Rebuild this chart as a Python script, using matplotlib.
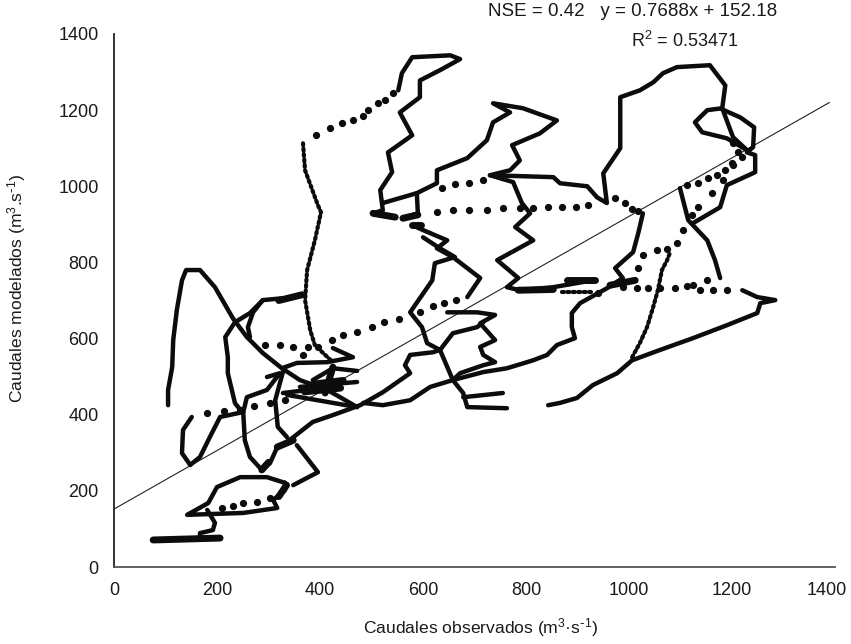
import matplotlib
matplotlib.use('Agg')
import matplotlib.pyplot as plt
from matplotlib.transforms import ScaledTranslation

plt.rcParams['font.family'] = ['Liberation Sans', 'DejaVu Sans']
plt.rcParams['mathtext.default'] = 'regular'

ticks = [0, 200, 400, 600, 800, 1000, 1200, 1400]
tick_labels = ['0', '200', '400', '600', '800', '1000', '1200', '1400']

trend_x = [0, 1389]
trend_y = [152.18, 1220]

# thick parts of the trajectory, where the daily points run together
peak_left = [(105,425),(105,465),(113,525),(115,596),(122,675),(132,753),(140,780),(167,780),(196,735),(231,653),(258,604),(289,562),(326,522),(361,491),(414,465),(439,446),(472,420)]
s_left = [(328,706),(289,701),(264,667),(235,643),(216,604),(221,551),(221,509),(235,430),(251,404),(254,333),(264,289),(287,255),(303,273),(317,315),(336,328),(386,381),(425,399),(478,425),(522,459),(575,509),(565,530),(575,557),(619,564),(633,570),(658,614),(705,630),(717,643)]
hook = [(289,701),(270,669),(260,630),(264,604)]
mid_arc = [(484,431),(522,425),(575,438),(614,473),(658,491),(717,512),(763,522),(814,543),(841,557),(860,583),(895,601),(889,630),(889,667),(905,693),(957,732),(988,759),(973,785),(1008,827),(1018,877),(1027,929)]
top_right = [(730,1029),(853,1024),(866,1008),(919,1000),(938,971),(957,956),(950,1034),(983,1100),(983,1234),(1021,1252),(1047,1273),(1066,1297),(1093,1313),(1157,1318),(1187,1265),(1181,1205),(1202,1129),(1229,1095)]
right_loop = [(1181,1205),(1152,1200),(1128,1168),(1142,1142),(1190,1126),(1229,1095)]
right_loop2 = [(1181,1202),(1216,1181),(1243,1155),(1241,1103),(1229,1089),(1245,1082),(1245,1037),(1190,1003),(1177,945),(1124,903)]
right_down = [(1099,995),(1115,911),(1152,858),(1167,806),(1177,759)]
right_tip = [(1220,727),(1249,709),(1284,701),(1255,693),(1249,667),(1190,635),(1124,601),(1060,570),(1006,543),(977,509),(930,478),(899,444),(866,431),(843,425)]
center_top = [(552,1252),(559,1297),(579,1339),(653,1344),(672,1334),(633,1305),(594,1278),(594,1234),(555,1194),(579,1134),(532,1089),(540,1037),(517,990),(522,937),(503,929),(546,919)]
center_mid = [(522,956),(588,982),(627,1008),(627,1042),(686,1074),(724,1121),(736,1168),(769,1194),(736,1218),(794,1205),(860,1173),(827,1139),(773,1108),(788,1068),(769,1042),(730,1029),(775,1011),(792,956),(808,929),(779,893),(814,858),(744,806),(785,759),(763,735),(788,727),(853,735),(930,753)]
small_square = [(588,982),(590,929),(561,916)]
center_low = [(579,898),(600,885),(647,858),(627,837),(658,814),(711,759),(686,709)]
center_low2 = [(600,866),(633,837),(662,814),(623,798),(618,753),(575,669),(598,630),(608,588),(633,570),(658,491)]
side_loop = [(647,669),(705,669),(740,662),(711,640),(740,596),(711,578),(717,557),(740,538),(717,530),(672,509),(658,491),(678,457),(686,420),(763,417)]
side_stub = [(678,446),(755,457)]
tail_left = [(251,407),(206,394),(186,341),(167,289),(148,268),(132,299),(134,360),(151,394)]
branch_a = [(297,499),(322,509),(297,465),(258,446),(251,407)]
branch_b = [(328,512),(313,438),(318,368),(336,341)]
cluster_a = [(326,522),(355,536),(414,538),(464,551),(425,575)]
cluster_b = [(361,473),(472,486)]
cluster_c = [(328,457),(425,473)]
cluster_d = [(386,491),(425,522),(472,515)]
cluster_f = [(336,452),(472,420)]
bottom_v = [(355,320),(396,249),(348,215)]
bottom_loop = [(332,221),(297,236),(245,236),(200,210),(183,168),(142,137),(251,142),(317,155),(309,176),(332,202),(332,221)]
bottom_stem = [(181,150),(196,116),(192,97),(167,89),(167,76)]
solid_paths = [peak_left, s_left, hook, mid_arc, top_right, right_loop, right_loop2, right_down, right_tip,
               center_top, center_mid, small_square, center_low, center_low2, side_loop, side_stub,
               tail_left, branch_a, branch_b, cluster_a, cluster_b, cluster_c, cluster_d, cluster_f,
               bottom_v, bottom_loop, bottom_stem]

# parts that look heavier than the rest
base_line = [(76,71),(206,76)]
blob_center = [(410,457),(425,525)]
blob_center2 = [(386,480),(445,490)]
blob_center3 = [(370,460),(440,470)]
blob_low = [(317,315),(348,333)]
blob_pit = [(287,255),(300,275)]
blob_loop = [(320,185),(335,215)]
blob_flat = [(785,727),(853,729)]
blob_flat2 = [(880,753),(934,753)]
blob_mid = [(963,740),(1012,753)]
blob_top = [(579,898),(596,898)]
blob_left = [(503,929),(546,919)]
blob_square = [(561,916),(590,925)]
blob_tip = [(320,700),(365,715)]
heavy_paths = [base_line, blob_center, blob_center2, blob_center3, blob_low, blob_pit, blob_loop, blob_flat,
               blob_flat2, blob_mid, blob_top, blob_left, blob_square, blob_tip]

# tightly packed points
dense_vertical = [(367,1113),(371,1042),(396,950),(402,932),(390,858),(375,780),(371,701),(381,622),(390,583),(410,557),(425,538)]
dense_flat = [(870,722),(927,722)]
dense_descend = [(1006,551),(1021,588),(1035,630),(1047,683),(1056,727),(1064,780),(1074,806),(1080,827)]
dense_paths = [dense_vertical, dense_flat, dense_descend]

# separate points on the fast rises
dots_lower = [(210,155),(231,160),(251,168),(278,171),(303,181)]
dots_left = [(181,404),(214,410),(245,412),(272,423),(303,431),(332,438)]
dots_upper = [(293,583),(322,583),(348,578),(367,557),(377,578),(396,578),(423,596),(445,609),(472,617),(501,630),(524,643),(553,651),(594,669),(619,685),(641,693),(664,701)]
dots_row1 = [(637,995),(662,1005),(689,1008),(717,1016)]
dots_row2 = [(627,932),(658,937),(689,937),(724,937),(755,942),(788,942),(814,942),(843,945),(870,945),(897,945),(920,950)]
dots_slope = [(973,969),(992,956),(1006,940),(1018,935)]
dots_top = [(392,1134),(419,1152),(443,1166),(464,1173),(484,1184),(493,1200),(513,1218),(526,1226),(542,1244)]
dots_tip = [(940,719),(988,735),(1016,732),(1037,732),(1060,732),(1089,732),(1113,738),(1124,740),(1152,753),(1138,727),(1163,727),(1190,727)]
dots_chain = [(1018,785),(1027,819),(1055,832),(1074,835),(1093,850),(1105,885),(1122,924),(1134,945),(1161,982),(1183,1016),(1200,1060),(1212,1089),(1202,1113)]
dots_right = [(1113,1003),(1134,1008),(1154,1021),(1171,1029),(1187,1042),(1202,1055),(1220,1076)]
dot_groups = [dots_lower, dots_left, dots_upper, dots_row1, dots_row2, dots_slope, dots_top, dots_tip, dots_chain, dots_right]

fig = plt.figure(figsize=(8.51, 6.44), dpi=100)
ax = fig.add_axes([114/851, 77/644, 721/851, 533/644])

ax.plot(trend_x, trend_y, color='#222222', linewidth=0.8, zorder=1)

for p in solid_paths:
    ax.plot([a[0] for a in p], [a[1] for a in p], color='#0c0c0c', linewidth=3.2,
            solid_joinstyle='round', solid_capstyle='round', zorder=2)
for p in heavy_paths:
    ax.plot([a[0] for a in p], [a[1] for a in p], color='#0c0c0c', linewidth=5.0,
            solid_capstyle='round', zorder=2)
for p in dense_paths:
    ax.plot([a[0] for a in p], [a[1] for a in p], color='#0c0c0c', linewidth=3.0,
            linestyle=(0, (0.5, 0.8)), dash_capstyle='round', zorder=2)
for p in dot_groups:
    ax.plot([a[0] for a in p], [a[1] for a in p], linestyle='none', marker='o', markersize=4.2,
            color='#0c0c0c', zorder=2)

ax.set_xlim(0, 1400)
ax.set_ylim(0, 1400)
ax.set_xticks(ticks)
ax.set_yticks(ticks)
ax.set_xticklabels(tick_labels)
ax.set_yticklabels(tick_labels)
ax.tick_params(axis='x', length=0, pad=11, labelsize=13, labelcolor='#1a1a1a')
ax.tick_params(axis='y', length=0, pad=11, labelsize=13, labelcolor='#1a1a1a')

# the last label sits a little left of its tick in the original
last = ax.get_xticklabels()[-1]
last.set_transform(last.get_transform() + ScaledTranslation(-6/72, 0, fig.dpi_scale_trans))

ax.spines['top'].set_visible(False)
ax.spines['right'].set_visible(False)
ax.spines['left'].set_linewidth(1.3)
ax.spines['bottom'].set_linewidth(1.3)
ax.spines['left'].set_color('#222222')
ax.spines['bottom'].set_color('#555555')

fig.text(481/851, 1-628/644, r'Caudales observados (m$^{3}$·s$^{\text{-}1}$)', ha='center', va='center',
         fontsize=12.6, color='#1a1a1a')
fig.text(17/851, 1-288/644, r'Caudales modelados (m$^{3}$.s$^{\text{-}1}$)', ha='center', va='center',
         rotation=90, fontsize=12.6, color='#1a1a1a')
fig.text(633/851, 1-12/644, 'NSE = 0.42   y = 0.7688x + 152.18', ha='center', va='center',
         fontsize=13.5, color='#1a1a1a')
fig.text(685/851, 1-41/644, 'R$^{2}$ = 0.53471', ha='center', va='center',
         fontsize=13, color='#1a1a1a')

fig.savefig('out.png', dpi=100)
